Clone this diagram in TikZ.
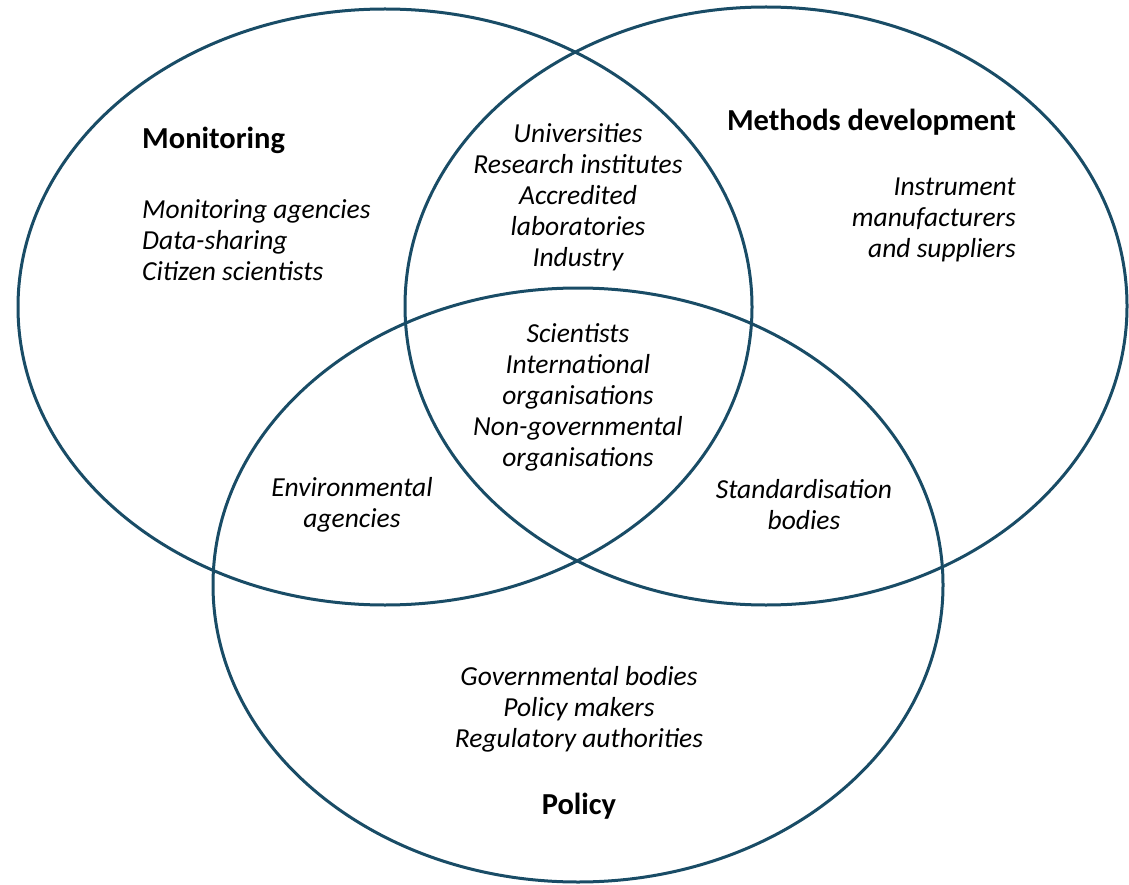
\documentclass[tikz,border=0pt]{standalone}
\usepackage{fontspec}
\setmainfont{Carlito}
\usepackage{xcolor}
\definecolor{VennTeal}{rgb}{0.10, 0.30, 0.40}

\begin{document}
\begin{tikzpicture}[x=1pt,y=1pt,yscale=-1,xscale=1,
	ring/.style={draw=VennTeal, line width=3pt},
	head/.style={inner sep=0pt, font=\fontsize{30.5}{34}\selectfont\bfseries},
	members/.style={inner sep=0pt, font=\fontsize{27.5}{31}\selectfont\itshape, align=center}]
		% Fix the page to the size of the reference
		\useasboundingbox (0,0) rectangle (1129,885);

		% The three rings
		\draw[ring] (385,307) ellipse (367 and 298);
		\draw[ring] (766,306) ellipse (361 and 299);
		\draw[ring] (578,585) ellipse (365 and 297);

		% Headings of the rings
		\node[head, anchor=west] (monitoring) at (142,140) {Monitoring};
		\node[head, anchor=east] (methods) at (1016,122) {Methods development};
		\node[head] (policy) at (579,806) {Policy};

		% Members found in one ring only
		\node[members, anchor=west, align=left] (monitoringlist) at (142,240) {Monitoring agencies\\Data-sharing\\Citizen scientists};
		\node[members, anchor=east, align=right] (methodslist) at (1016,220) {Instrument\\manufacturers\\and suppliers};
		\node[members] (policylist) at (579,709) {Governmental bodies\\Policy makers\\Regulatory authorities};

		% Members found where two rings overlap
		\node[members] (research) at (578,197) {Universities\\Research institutes\\Accredited\\laboratories\\Industry};
		\node[members] (environment) at (352,505) {Environmental\\agencies};
		\node[members] (standards) at (804,505) {Standardisation\\bodies};

		% Members found where all three rings overlap
		\node[members] (allthree) at (578,397) {Scientists\\International\\organisations\\Non-governmental\\organisations};
	\end{tikzpicture}
\end{document}
